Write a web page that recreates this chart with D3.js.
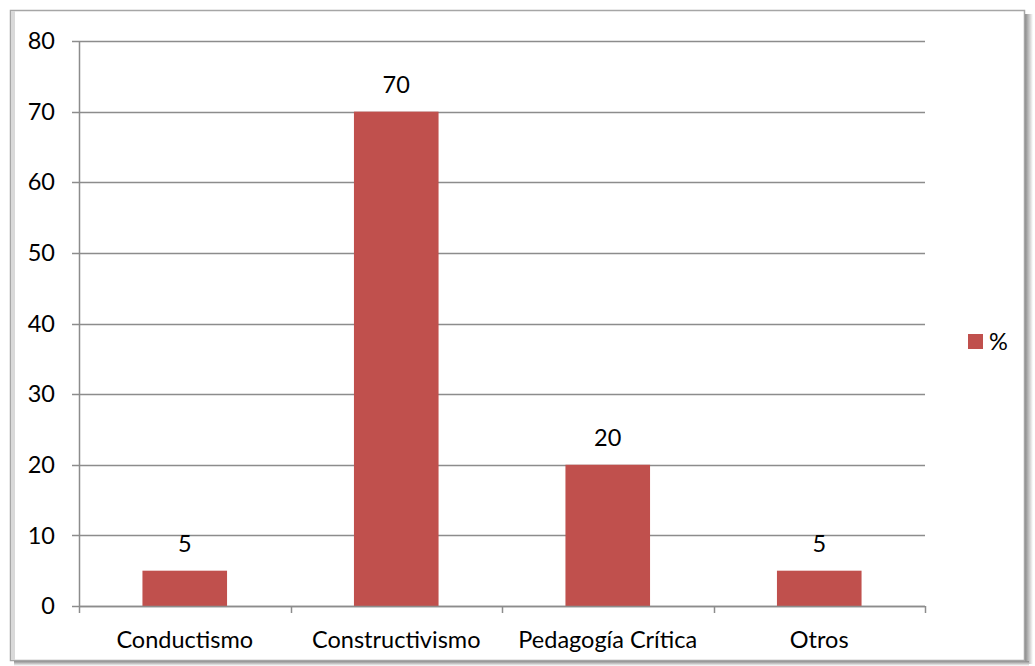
<!DOCTYPE html>
<html><head><meta charset="utf-8">
<script src="https://cdn.jsdelivr.net/npm/d3@7"></script>
<style>html,body{margin:0;padding:0;background:#fff;}</style>
</head><body>
<svg id="c" width="1035" height="666"></svg>
<script>
const categories = ["Conductismo", "Constructivismo", "Pedagogía Crítica", "Otros"];
const values = [5, 70, 20, 5];
const yTicks = [0, 10, 20, 30, 40, 50, 60, 70, 80];
const seriesName = "%";

const svg = d3.select("#c");
const font = "Lato, 'Open Sans', sans-serif";
const fs = 23.5;

// frame with shadow
const defs = svg.append("defs");
const gr = defs.append("linearGradient").attr("id","shR").attr("x1",0).attr("x2",1);
gr.append("stop").attr("offset",0).attr("stop-color","#888");
gr.append("stop").attr("offset",1).attr("stop-color","#fff");
const gb = defs.append("linearGradient").attr("id","shB").attr("x1",0).attr("x2",0).attr("y1",0).attr("y2",1);
gb.append("stop").attr("offset",0).attr("stop-color","#888");
gb.append("stop").attr("offset",1).attr("stop-color","#fff");
svg.append("rect").attr("x",1025).attr("y",14).attr("width",8).attr("height",650).attr("fill","url(#shR)");
svg.append("rect").attr("x",14).attr("y",661).attr("width",1015).attr("height",5).attr("fill","url(#shB)");
svg.append("rect").attr("x",10.5).attr("y",10.5).attr("width",1014).attr("height",650)
  .attr("fill","#fff").attr("stroke","#a6a6a6").attr("stroke-width",1.5);
svg.append("rect").attr("x",11).attr("y",11).attr("width",4).attr("height",649).attr("fill","#d9d9d9");

const x0 = 79, x1 = 925, yTop = 41, yBot = 606;
const x = d3.scaleBand().domain(categories).range([x0, x1]).paddingInner(0).paddingOuter(0);
const y = d3.scaleLinear().domain([0, 80]).range([yBot, yTop]);

const grid = "#8c8c8c";
// gridlines
svg.append("g").selectAll("line").data(yTicks).join("line")
  .attr("x1", x0 - 7).attr("x2", x1)
  .attr("y1", d => Math.round(y(d)) + 0.5).attr("y2", d => Math.round(y(d)) + 0.5)
  .attr("stroke", grid).attr("stroke-width", 1.5);

// y axis line
svg.append("line").attr("x1", x0 + 0.5).attr("x2", x0 + 0.5).attr("y1", yTop).attr("y2", yBot)
  .attr("stroke", grid).attr("stroke-width", 1.5);

// y labels
svg.append("g").selectAll("text").data(yTicks).join("text")
  .attr("x", 55).attr("y", d => y(d)).attr("dy", "0.35em").attr("text-anchor", "end")
  .attr("font-family", font).attr("font-size", fs).attr("fill", "#000").text(d => d);

// bars
const bw = x.bandwidth() * 0.4;
svg.append("g").selectAll("rect").data(values).join("rect")
  .attr("x", (d, i) => x(categories[i]) + (x.bandwidth() - bw) / 2)
  .attr("y", d => y(d)).attr("width", bw).attr("height", d => yBot - y(d))
  .attr("fill", "#C0504D");

// x axis ticks
const bounds = categories.map(c => x(c)).concat([x1]);
svg.append("g").selectAll("line").data(bounds).join("line")
  .attr("x1", d => Math.round(d) + 0.5).attr("x2", d => Math.round(d) + 0.5)
  .attr("y1", yBot).attr("y2", yBot + 7).attr("stroke", grid).attr("stroke-width", 1.5);
svg.append("line").attr("x1", x0).attr("x2", x1).attr("y1", yBot + 0.5).attr("y2", yBot + 0.5)
  .attr("stroke", grid).attr("stroke-width", 1.5);

// x labels
svg.append("g").selectAll("text").data(categories).join("text")
  .attr("x", d => x(d) + x.bandwidth() / 2).attr("y", 648).attr("text-anchor", "middle")
  .attr("font-family", font).attr("font-size", fs).attr("fill", "#000").text(d => d);

// value labels
svg.append("g").selectAll("text").data(values).join("text")
  .attr("x", (d, i) => x(categories[i]) + x.bandwidth() / 2).attr("y", d => y(d) - 19)
  .attr("text-anchor", "middle").attr("font-family", font).attr("font-size", fs).attr("fill", "#000")
  .text(d => d);

// legend
svg.append("rect").attr("x", 968).attr("y", 334).attr("width", 15).attr("height", 15).attr("fill", "#C0504D");
svg.append("text").attr("x", 989).attr("y", 350).attr("font-family", font).attr("font-size", fs).text(seriesName);
</script>
</body></html>
